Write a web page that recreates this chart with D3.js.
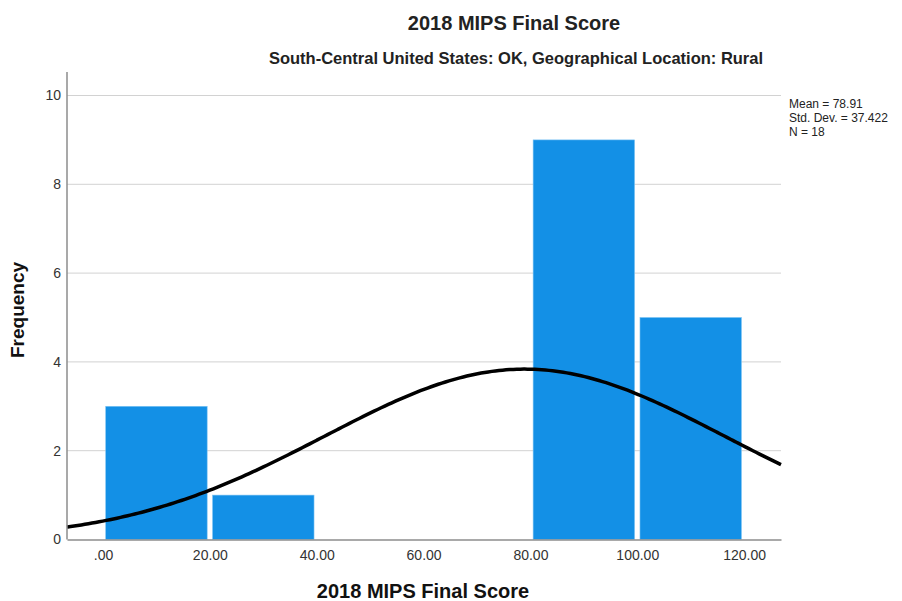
<!DOCTYPE html>
<html><head><meta charset="utf-8">
<script src="https://cdn.jsdelivr.net/npm/d3@7"></script>
<style>body{margin:0;background:#fff}svg{display:block;font-family:"Liberation Sans",Arial,sans-serif}</style>
</head><body>
<svg id="c" width="902" height="601"></svg>
<script>
const binStarts = [0, 20, 40, 60, 80, 100];
const binWidth = 20;
const counts = [3, 1, 0, 0, 9, 5];
const xTicks = [0, 20, 40, 60, 80, 100, 120];
const xTickLabels = [".00", "20.00", "40.00", "60.00", "80.00", "100.00", "120.00"];
const yTicks = [0, 2, 4, 6, 8, 10];
const stats = {mean: 78.91, sd: 37.422, n: 18};
const statLines = ["Mean = 78.91", "Std. Dev. = 37.422", "N = 18"];
const title = "2018 MIPS Final Score";
const subtitle = "South-Central United States: OK, Geographical Location: Rural";
const xLabel = "2018 MIPS Final Score";
const yLabel = "Frequency";

const svg = d3.select("#c");
const L = 67, R = 781, T = 72, B = 539.5;
const x = d3.scaleLinear().domain([-6.74, 126.9]).range([L, R]);
const y = d3.scaleLinear().domain([0, 10]).range([B, 95.5]);

// gridlines
svg.append("g").selectAll("line").data(yTicks.filter(d => d > 0)).join("line")
  .attr("x1", L).attr("x2", R).attr("y1", d => y(d)).attr("y2", d => y(d))
  .attr("stroke", "#d2d2d2").attr("stroke-width", 1);

// bars
svg.append("g").selectAll("rect").data(binStarts.map((s, i) => ({s, c: counts[i]})).filter(d => d.c > 0)).join("rect")
  .attr("x", d => x(d.s) + 2.7).attr("width", d => x(d.s + binWidth) - x(d.s) - 5.4)
  .attr("y", d => y(d.c)).attr("height", d => y(0) - y(d.c))
  .attr("fill", "#1390e6").attr("stroke", "#7cc3f3").attr("stroke-width", 0.6);

// normal curve
const scale = stats.n * binWidth;
const [x0, x1] = x.domain();
const pts = d3.range(0, 201).map(i => {
  const v = x0 + (x1 - x0) * i / 200;
  const z = (v - stats.mean) / stats.sd;
  return [v, scale * Math.exp(-0.5 * z * z) / (stats.sd * Math.sqrt(2 * Math.PI))];
});
svg.append("path").datum(pts)
  .attr("d", d3.line().x(d => x(d[0])).y(d => y(d[1])).curve(d3.curveBasis))
  .attr("fill", "none").attr("stroke", "#000").attr("stroke-width", 3.5);

// axes
const xAxis = d3.axisBottom(x).tickValues(xTicks).tickFormat((d, i) => xTickLabels[i]).tickSize(0).tickPadding(10.5);
const gx = svg.append("g").attr("transform", `translate(0,${B})`).call(xAxis);
gx.select(".domain").attr("stroke", "#8c8c8c").attr("stroke-width", 1.5);
gx.selectAll("text").attr("font-size", 14).attr("fill", "#333").attr("font-family", "Liberation Sans, Arial, sans-serif");

const yAxis = d3.axisLeft(y).tickValues(yTicks).tickFormat(d3.format("d")).tickSize(0).tickPadding(6);
const gy = svg.append("g").attr("transform", `translate(${L},0)`).call(yAxis);
gy.select(".domain").remove();
gy.append("line").attr("x1", 0).attr("x2", 0).attr("y1", T).attr("y2", B).attr("stroke", "#8c8c8c").attr("stroke-width", 1.5);
gy.selectAll("text").attr("font-size", 14).attr("fill", "#333").attr("font-family", "Liberation Sans, Arial, sans-serif");

// titles
svg.append("text").attr("x", 514).attr("y", 30).attr("text-anchor", "middle")
  .attr("font-size", 20).attr("font-weight", "bold").attr("fill", "#222").text(title);
svg.append("text").attr("x", 516).attr("y", 64).attr("text-anchor", "middle")
  .attr("font-size", 16.5).attr("font-weight", "bold").attr("fill", "#222").text(subtitle);
svg.append("text").attr("x", 423).attr("y", 598).attr("text-anchor", "middle")
  .attr("font-size", 20).attr("font-weight", "bold").attr("fill", "#111").text(xLabel);
svg.append("text").attr("transform", "translate(24,310) rotate(-90)").attr("text-anchor", "middle")
  .attr("font-size", 19).attr("font-weight", "bold").attr("fill", "#111").text(yLabel);

// stats
svg.append("g").selectAll("text").data(statLines).join("text")
  .attr("x", 789).attr("y", (d, i) => 108 + i * 13.9)
  .attr("font-size", 12).attr("fill", "#222").text(d => d);
</script>
</body></html>
